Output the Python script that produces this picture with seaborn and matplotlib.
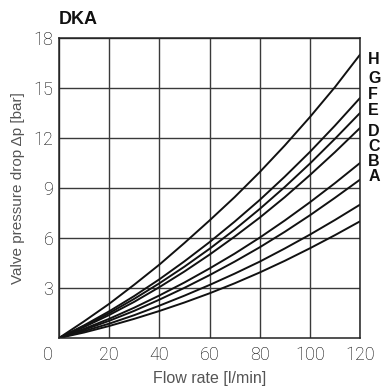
import matplotlib
matplotlib.use("Agg")
import matplotlib.pyplot as plt
import seaborn as sns
import pandas as pd

# Flow rate [l/min] at which each characteristic curve is read
flow = [0, 10, 20, 30, 40, 50, 60, 70, 80, 90, 100, 110, 120]

# Pressure drop [bar] for each valve size
dp_A = [0, 0.33, 0.72, 1.15, 1.62, 2.13, 2.68, 3.28, 3.93, 4.63, 5.38, 6.17, 7.0]
dp_B = [0, 0.41, 0.86, 1.37, 1.94, 2.54, 3.18, 3.86, 4.58, 5.37, 6.20, 7.08, 8.0]
dp_C = [0, 0.49, 1.03, 1.63, 2.30, 3.01, 3.77, 4.58, 5.44, 6.37, 7.36, 8.41, 9.5]
dp_D = [0, 0.55, 1.15, 1.82, 2.55, 3.33, 4.17, 5.06, 6.02, 7.05, 8.14, 9.29, 10.5]
dp_E = [0, 0.66, 1.38, 2.17, 3.05, 3.99, 5.00, 6.08, 7.22, 8.45, 9.77, 11.15, 12.6]
dp_F = [0, 0.71, 1.49, 2.35, 3.28, 4.28, 5.35, 6.50, 7.74, 9.06, 10.46, 11.95, 13.5]
dp_G = [0, 0.76, 1.60, 2.52, 3.52, 4.60, 5.75, 6.98, 8.28, 9.68, 11.16, 12.74, 14.4]
dp_H = [0, 1.00, 2.05, 3.20, 4.40, 5.70, 7.05, 8.45, 9.95, 11.55, 13.25, 15.05, 17.0]

valves = ["A", "B", "C", "D", "E", "F", "G", "H"]
curves = [dp_A, dp_B, dp_C, dp_D, dp_E, dp_F, dp_G, dp_H]

x_ticks = [0, 20, 40, 60, 80, 100, 120]
y_ticks = [3, 6, 9, 12, 15, 18]

# Vertical placement of the curve letters along the right edge (in bar)
letter_y = [9.7, 10.6, 11.5, 12.4, 13.65, 14.6, 15.55, 16.7]

rows = []
for name, vals in zip(valves, curves):
    for q, p in zip(flow, vals):
        rows.append({"flow": q, "dp": p, "valve": name})
df = pd.DataFrame(rows)

sns.set_theme(style="white")
plt.rcParams["font.family"] = ["Liberation Sans", "DejaVu Sans"]

fig = plt.figure(figsize=(3.84, 3.87), dpi=100)
ax = fig.add_axes([59 / 384, 1 - 338 / 387, 301 / 384, 300 / 387])

sns.lineplot(data=df, x="flow", y="dp", hue="valve",
             palette=["#111111"] * len(valves), linewidth=1.4,
             legend=False, ax=ax, sort=True)

ax.set_xlim(0, 120)
ax.set_ylim(0, 18)
ax.set_xticks(x_ticks)
ax.set_yticks(y_ticks)
ax.set_xticklabels([""] + [str(t) for t in x_ticks[1:]])
ax.set_yticklabels([str(t) for t in y_ticks])

tick_family = ["Roboto", "Liberation Sans", "DejaVu Sans"]
tick_size = 13
tick_color = "#000000"
for lab in ax.get_xticklabels() + ax.get_yticklabels():
    lab.set_fontfamily(tick_family)
    lab.set_fontsize(tick_size)
    lab.set_fontweight("light")
    lab.set_color(tick_color)
ax.tick_params(axis="both", length=0)
ax.tick_params(axis="x", pad=5.5)
ax.tick_params(axis="y", pad=4)

# shared origin label in the lower-left corner
ax.annotate("0", xy=(0, 0), xycoords="data", xytext=(-4.5, -5.5),
            textcoords="offset points", ha="right", va="top",
            fontfamily=tick_family, fontsize=tick_size, fontweight="light",
            color=tick_color)

ax.grid(True, color="#3a3a3a", linewidth=1.0)
for sp in ax.spines.values():
    sp.set_visible(True)
    sp.set_color("#222222")
    sp.set_linewidth(1.1)

ax.set_xlabel("Flow rate [l/min]", fontsize=11.5, color="#555555", labelpad=5)
ax.set_ylabel("Valve pressure drop \u0394p [bar]", fontsize=11, color="#555555",
              labelpad=6)

for name, ly in zip(valves, letter_y):
    ax.annotate(name, xy=(120, ly), xycoords="data", xytext=(6, 0),
                textcoords="offset points", ha="left", va="center",
                fontsize=11.5, fontweight="bold", color="#111111",
                annotation_clip=False)

ax.text(0, 1.035, "DKA", transform=ax.transAxes, ha="left", va="bottom",
        fontsize=13, fontweight="bold", color="#111111")

fig.savefig("out.png", dpi=100)
